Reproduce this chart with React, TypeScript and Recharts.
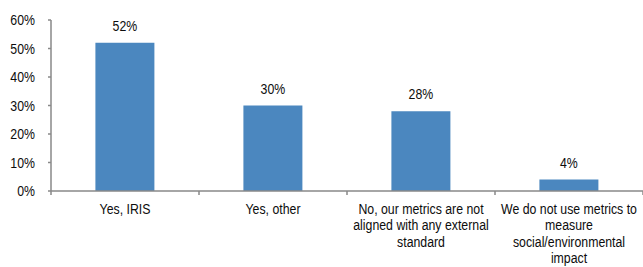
import { BarChart, Bar, XAxis, YAxis, LabelList } from "recharts";

const categories = [
  "Yes, IRIS",
  "Yes, other",
  "No, our metrics are not aligned with any external standard",
  "We do not use metrics to measure social/environmental impact",
];
const shares = [52, 30, 28, 4];
const tickLines = [
  ["Yes, IRIS"],
  ["Yes, other"],
  ["No, our metrics are not", "aligned with any external", "standard"],
  ["We do not use metrics to", "measure", "social/environmental", "impact"],
];
const yTicks = [0, 10, 20, 30, 40, 50, 60];

const data = categories.map((name, i) => ({ name, value: shares[i] }));

const FONT = "'Liberation Sans', Arial, sans-serif";
const AXIS = "#898989";
const NARROW = 0.85;

// the source uses a condensed face, so squeeze plain Liberation Sans sideways
const Squeezed = ({ x, y, anchor, children }: any) => (
  <text
    transform={`translate(${x},${y}) scale(${NARROW},1)`}
    x={0}
    y={0}
    textAnchor={anchor}
    fontFamily={FONT}
    fontSize={14.5}
    fill="#0d0d0d"
  >
    {children}
  </text>
);

const CategoryTick = (props: any) => {
  const { x, y, payload, index } = props;
  const half = payload?.offset ?? 74;
  const lines = tickLines[index] ?? [String(payload.value)];
  return (
    <g>
      <line x1={x - half} x2={x - half} y1={y} y2={y + 4} stroke={AXIS} strokeWidth={1.5} />
      {index === categories.length - 1 && (
        <line x1={x + half} x2={x + half} y1={y} y2={y + 4} stroke={AXIS} strokeWidth={1.5} />
      )}
      <Squeezed x={x} y={y} anchor="middle">
        {lines.map((l, i) => (
          <tspan key={i} x={0} dy={i === 0 ? 23 : 16.3}>
            {l}
          </tspan>
        ))}
      </Squeezed>
    </g>
  );
};

const PercentTick = (props: any) => {
  const { x, y, payload } = props;
  return (
    <Squeezed x={x} y={y + 5} anchor="end">
      {`${payload.value}%`}
    </Squeezed>
  );
};

const BarValue = (props: any) => {
  const { x, y, width, value } = props;
  return (
    <Squeezed x={x + width / 2} y={y - 12} anchor="middle">
      {`${value}%`}
    </Squeezed>
  );
};

const App = () => {
  return (
    <div style={{ position: "absolute", left: 0, top: 0, background: "#fff" }}>
      <BarChart
        width={643}
        height={267}
        data={data}
        margin={{ top: 20, right: 0, left: 0, bottom: 0 }}
        barCategoryGap="30%"
      >
        <XAxis
          dataKey="name"
          height={76}
          interval={0}
          tickLine={false}
          tickSize={0}
          tickMargin={0}
          axisLine={{ stroke: AXIS, strokeWidth: 1.5 }}
          tick={<CategoryTick />}
        />
        <YAxis
          width={51}
          domain={[0, 60]}
          ticks={yTicks}
          interval={0}
          tickSize={3}
          tickMargin={13}
          axisLine={{ stroke: AXIS, strokeWidth: 1.5 }}
          tickLine={{ stroke: AXIS, strokeWidth: 1.5 }}
          tick={<PercentTick />}
        />
        <Bar dataKey="value" fill="#4B87BF" isAnimationActive={false}>
          <LabelList dataKey="value" content={<BarValue />} />
        </Bar>
      </BarChart>
    </div>
  );
};

export default App;
